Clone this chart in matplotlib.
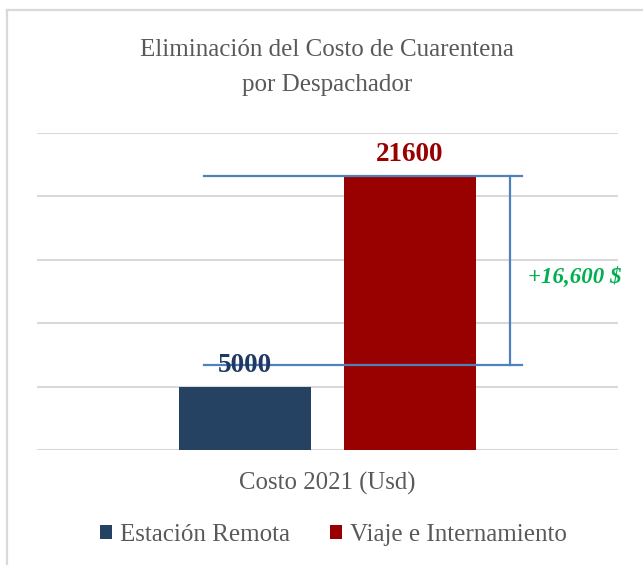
import matplotlib
matplotlib.use("Agg")
import matplotlib.pyplot as plt
from matplotlib.lines import Line2D
from matplotlib.patches import Patch

# ---- data ----
category = "Costo 2021 (Usd)"
series_names = ["Estación Remota", "Viaje e Internamiento"]
series_values = [5000, 21600]
series_colors = ["#264263", "#990000"]
label_colors = ["#1f3864", "#990000"]
title_lines = ["Eliminación del Costo de Cuarentena", "por Despachador"]
diff_label = "+16,600 $"
bracket_top = 21600
bracket_bottom = 6700   # drawn shape, estimated
y_max = 25000
y_step = 5000

W, H = 643, 565
fig = plt.figure(figsize=(W / 100, H / 100), dpi=100)
serif = ["Liberation Serif", "DejaVu Serif"]
gray = "#595959"

# chart border (light gray, top and left visible)
fig.add_artist(Line2D([7 / W, 1.0], [1 - 10 / H, 1 - 10 / H], transform=fig.transFigure,
                      color="#d9d9d9", lw=1.6))
fig.add_artist(Line2D([7 / W, 7 / W], [0, 1 - 10 / H], transform=fig.transFigure,
                      color="#d9d9d9", lw=1.6))

# plot area
left, right, top, bottom = 37, 618, 133, 450
ax = fig.add_axes([left / W, 1 - bottom / H, (right - left) / W, (bottom - top) / H])
ax.set_xlim(-0.5, 0.5)
ax.set_ylim(0, y_max)
for s in ax.spines.values():
    s.set_visible(False)
ax.set_yticks(range(0, y_max + 1, y_step))
ax.yaxis.grid(True, color="#d9d9d9", lw=1.5)
ax.set_axisbelow(True)
ax.tick_params(axis="y", length=0, labelleft=False)
ax.tick_params(axis="x", length=0, pad=16)
ax.set_xticks([0])
ax.set_xticklabels([category], family=serif, fontsize=17.8, color=gray)

width = 0.2255
offsets = [-0.142, 0.142]
for name, v, c, off, lc in zip(series_names, series_values, series_colors, offsets, label_colors):
    ax.bar(off, v, width=width, color=c, label=name, zorder=2)
    ax.text(off, v + 700, f"{v}", ha="center", va="bottom", family=serif,
            fontsize=19.5, fontweight="bold", color=lc, zorder=4)

# difference bracket
x0, x1, xv = -0.2126, 0.3356, 0.314
bc = "#4f81bd"
ax.plot([x0, x1], [bracket_top, bracket_top], color=bc, lw=1.6, zorder=3)
ax.plot([x0, x1], [bracket_bottom, bracket_bottom], color=bc, lw=1.6, zorder=3)
ax.plot([xv, xv], [bracket_bottom, bracket_top], color=bc, lw=1.6, zorder=3)
ax.text(0.425, 13600, diff_label, ha="center", va="center", family=serif,
        fontsize=16.5, fontweight="bold", style="italic", color="#00b050", clip_on=False)

# title
fig.text(327 / W, 1 - 50 / H, title_lines[0], ha="center", va="center",
         family=serif, fontsize=18, color=gray)
fig.text(327 / W, 1 - 85 / H, title_lines[1], ha="center", va="center",
         family=serif, fontsize=18, color=gray)

# legend
handles = [Patch(facecolor=c, label=n) for n, c in zip(series_names, series_colors)]
fig.legend(handles=handles, loc="center", bbox_to_anchor=(333 / W, 1 - 535 / H), ncol=2,
           frameon=False, prop={"family": serif, "size": 18}, labelcolor=gray,
           handlelength=0.5, handleheight=0.5, handletextpad=0.3, columnspacing=1.6)

fig.savefig("out.png", dpi=100)
